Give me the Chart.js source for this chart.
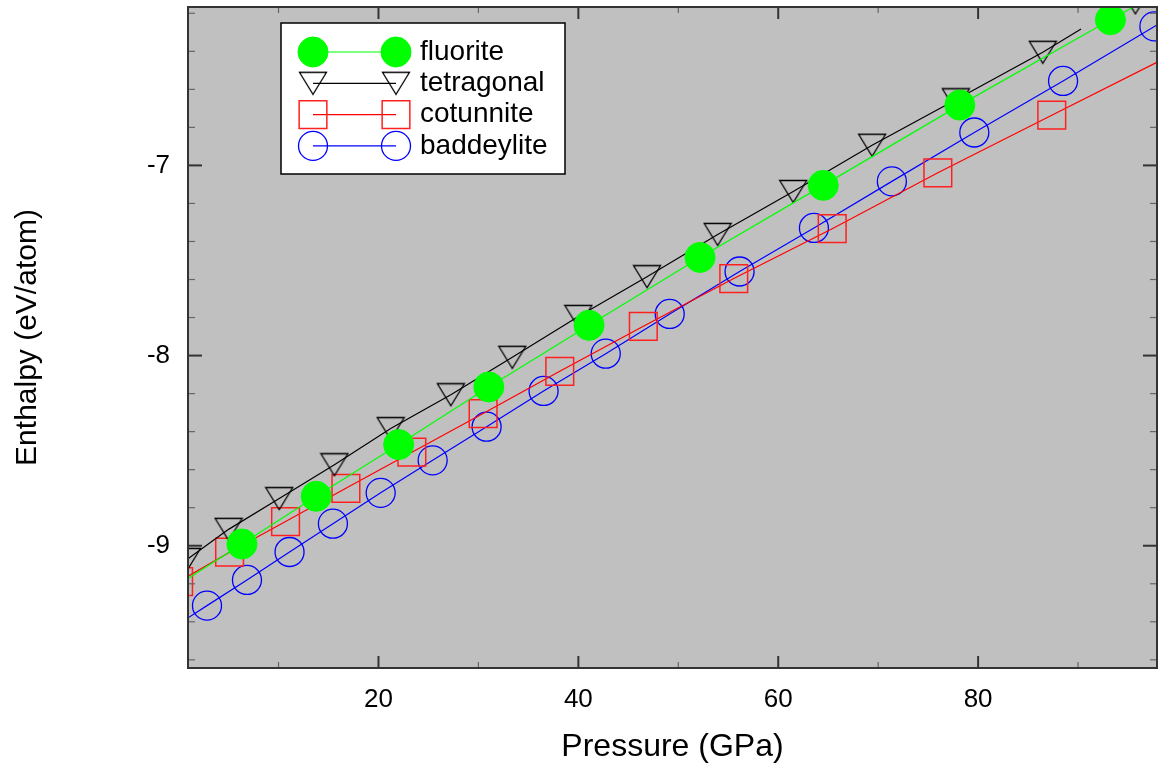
<!DOCTYPE html>
<html>
<head>
<meta charset="utf-8">
<script src="https://cdn.jsdelivr.net/npm/chart.js"></script>
<style>
  body { margin: 0; background: #fff; }
</style>
</head>
<body>
<canvas id="myChart" width="1158" height="770"></canvas>
<script>
// Data (pressure in GPa, enthalpy in eV/atom)
const fluorite_p = [-0.76, 6.34, 13.77, 22.02, 31.04, 41.07, 52.17, 64.50, 78.17, 93.24, 109.9];
const fluorite_h = [-9.229, -8.991, -8.740, -8.468, -8.165, -7.841, -7.484, -7.105, -6.683, -6.234, -5.75];

const tetragonal_p = [0.84, 5.0, 10.07, 15.59, 21.22, 27.24, 33.39, 40.0, 46.87, 53.94, 61.50, 69.39, 77.77, 86.47, 90.30, 95.74];
const tetragonal_h = [-9.072, -8.914, -8.752, -8.574, -8.384, -8.206, -8.009, -7.794, -7.585, -7.363, -7.137, -6.894, -6.655, -6.405, -6.283, -6.145];
const tetragonal_line_end = 14; // line stops here, last marker stands alone

const cotunnite_p = [0.0, 5.1, 10.7, 16.74, 23.34, 30.47, 38.14, 46.5, 55.55, 65.40, 75.97, 87.37, 99.67];
const cotunnite_h = [-9.189, -9.034, -8.873, -8.698, -8.508, -8.305, -8.083, -7.846, -7.595, -7.333, -7.039, -6.736, -6.411];

const baddeylite_p = [-1.03, 2.84, 6.84, 11.1, 15.44, 20.22, 25.42, 30.82, 36.52, 42.74, 49.14, 56.13, 63.57, 71.37, 79.62, 88.50, 97.64, 107.6];
const baddeylite_h = [-9.446, -9.315, -9.180, -9.033, -8.884, -8.722, -8.551, -8.374, -8.186, -7.990, -7.781, -7.558, -7.329, -7.084, -6.827, -6.556, -6.269, -5.961];

const series_labels = ["fluorite", "tetragonal", "cotunnite", "baddeylite"];

// Axis ranges
const x_min = 0.94, x_max = 97.9;
const y_min = -9.643, y_max = -6.167;

const FONT = 'Arial, "Liberation Sans", sans-serif';

function toPoints(px, py) {
  return px.map((p, i) => ({ x: p, y: py[i] }));
}

function isWhole(v) {
  return Math.abs(v - Math.round(v)) < 1e-6;
}

// Inverted triangle marker, centered on its bounding box
const triangle_img = document.createElement("canvas");
triangle_img.width = 30;
triangle_img.height = 25;
(function () {
  const c = triangle_img.getContext("2d");
  c.strokeStyle = "#000";
  c.lineWidth = 1.3;
  c.beginPath();
  c.moveTo(1.5, 1.5);
  c.lineTo(28.5, 1.5);
  c.lineTo(15, 23.5);
  c.closePath();
  c.stroke();
})();

// Gray plot area, inward ticks on all four sides, frame
const frameTicks = {
  id: "frameTicks",
  beforeDraw(chart) {
    const { ctx, chartArea: a } = chart;
    ctx.save();
    ctx.fillStyle = "#c0c0c0";
    ctx.fillRect(a.left, a.top, a.right - a.left, a.bottom - a.top);
    ctx.restore();
  },
  afterDatasetsDraw(chart) {
    const { ctx, chartArea: a, scales } = chart;
    const sx = scales.x, sy = scales.y;
    ctx.save();
    function seg(x1, y1, x2, y2) {
      ctx.beginPath();
      ctx.moveTo(x1, y1);
      ctx.lineTo(x2, y2);
      ctx.stroke();
    }
    sx.ticks.forEach((t) => {
      const px = sx.getPixelForValue(t.value);
      const major = isWhole(t.value / 20);
      const len = major ? 12 : 6;
      ctx.lineWidth = major ? 2 : 1.2;
      ctx.strokeStyle = major ? "#333" : "#666";
      seg(px, a.bottom, px, a.bottom - len);
      seg(px, a.top, px, a.top + len);
    });
    sy.ticks.forEach((t) => {
      const py = sy.getPixelForValue(t.value);
      const major = isWhole(t.value);
      const len = major ? 14 : 7;
      ctx.lineWidth = major ? 2 : 1.2;
      ctx.strokeStyle = major ? "#333" : "#666";
      seg(a.left, py, a.left + len, py);
      seg(a.right, py, a.right - len, py);
    });
    ctx.lineWidth = 2;
    ctx.strokeStyle = "#333";
    ctx.strokeRect(a.left, a.top, a.right - a.left, a.bottom - a.top);
    ctx.restore();
  }
};

// Origin style legend box inside the plot
const boxLegend = {
  id: "boxLegend",
  afterDraw(chart) {
    const { ctx, chartArea: a } = chart;
    const left = a.left + 93, top = a.top + 16, w = 284, h = 151;
    ctx.save();
    ctx.fillStyle = "#fff";
    ctx.fillRect(left, top, w, h);
    ctx.lineWidth = 1.5;
    ctx.strokeStyle = "#000";
    ctx.strokeRect(left, top, w, h);
    chart.data.datasets.forEach((ds, i) => {
      const y = top + 29 + i * 31.3;
      const x1 = left + 32, x2 = left + 115;
      ctx.strokeStyle = ds.borderColor;
      ctx.lineWidth = ds.borderWidth;
      ctx.beginPath();
      ctx.moveTo(x1, y);
      ctx.lineTo(x2, y);
      ctx.stroke();
      [x1, x2].forEach((x) => drawMarker(ctx, ds, x, y));
      ctx.fillStyle = "#000";
      ctx.font = "28px " + FONT;
      ctx.textBaseline = "middle";
      ctx.textAlign = "left";
      ctx.fillText(ds.label, left + 139, y);
    });
    ctx.restore();
  }
};

function drawMarker(ctx, ds, x, y) {
  const style = ds.pointStyle;
  if (style === triangle_img) {
    ctx.drawImage(triangle_img, x - triangle_img.width / 2, y - triangle_img.height / 2);
    return;
  }
  const r = ds.pointRadius;
  ctx.lineWidth = ds.pointBorderWidth;
  ctx.strokeStyle = ds.pointBorderColor;
  ctx.fillStyle = ds.pointBackgroundColor;
  ctx.beginPath();
  if (style === "rect") {
    const s = r * Math.SQRT1_2;
    ctx.rect(x - s, y - s, 2 * s, 2 * s);
  } else {
    ctx.arc(x, y, r, 0, Math.PI * 2);
  }
  ctx.fill();
  ctx.stroke();
}

// Chart.js reserves room for half-labels at the axis ends; the reference does not
function noEdgePadding(scale) {
  scale.paddingTop = 0;
  scale.paddingBottom = 0;
  scale.paddingLeft = 0;
  scale.paddingRight = 0;
}

const ctx = document.getElementById("myChart").getContext("2d");

const myChart = new Chart(ctx, {
  type: "line",
  data: {
    datasets: [
      {
        label: series_labels[0],
        data: toPoints(fluorite_p, fluorite_h),
        borderColor: "#00ff00",
        borderWidth: 1.2,
        pointStyle: "circle",
        pointRadius: 15,
        pointBackgroundColor: "#00ff00",
        pointBorderColor: "#00ff00",
        pointBorderWidth: 1
      },
      {
        label: series_labels[1],
        data: toPoints(tetragonal_p, tetragonal_h),
        borderColor: "#000000",
        borderWidth: 1.2,
        pointStyle: triangle_img,
        pointRadius: (c) => (c.dataIndex === tetragonal_line_end ? 0 : 13),
        pointBackgroundColor: "rgba(0,0,0,0)",
        pointBorderColor: "#000000",
        pointBorderWidth: 1.3,
        segment: {
          borderColor: (c) => (c.p0DataIndex >= tetragonal_line_end ? "rgba(0,0,0,0)" : "#000000")
        }
      },
      {
        label: series_labels[2],
        data: toPoints(cotunnite_p, cotunnite_h),
        borderColor: "#ff0000",
        borderWidth: 1.2,
        pointStyle: "rect",
        pointRadius: 19.6,
        pointBackgroundColor: "rgba(0,0,0,0)",
        pointBorderColor: "#ff2020",
        pointBorderWidth: 1.5
      },
      {
        label: series_labels[3],
        data: toPoints(baddeylite_p, baddeylite_h),
        borderColor: "#0000ff",
        borderWidth: 1.2,
        pointStyle: "circle",
        pointRadius: 14.5,
        pointBackgroundColor: "rgba(0,0,0,0)",
        pointBorderColor: "#0000ff",
        pointBorderWidth: 1.3
      }
    ]
  },
  options: {
    responsive: false,
    animation: false,
    clip: 0,
    layout: { autoPadding: false, padding: { top: 7, right: 1, left: 0, bottom: 0 } },
    elements: { line: { tension: 0 } },
    plugins: {
      legend: { display: false },
      tooltip: { enabled: false }
    },
    scales: {
      x: {
        type: "linear",
        min: x_min,
        max: x_max,
        grid: { display: false },
        border: { display: false },
        ticks: {
          stepSize: 10,
          includeBounds: false,
          autoSkip: false,
          maxRotation: 0,
          padding: 8,
          color: "#000",
          font: { family: FONT, size: 26 },
          callback: (v) => (isWhole(v / 20) ? Math.round(v) : "")
        },
        title: {
          display: true,
          text: "Pressure (GPa)",
          color: "#000",
          font: { family: FONT, size: 32 },
          padding: { top: 0, bottom: 4 }
        },
        afterFit: (scale) => {
          scale.height = 102;
          noEdgePadding(scale);
        }
      },
      y: {
        type: "linear",
        min: y_min,
        max: y_max,
        grid: { display: false },
        border: { display: false },
        ticks: {
          stepSize: 0.2,
          includeBounds: false,
          autoSkip: false,
          padding: 10,
          color: "#000",
          font: { family: FONT, size: 26 },
          callback: (v) => (isWhole(v) ? Math.round(v) : "")
        },
        title: {
          display: true,
          text: "Enthalpy (eV/atom)",
          color: "#000",
          font: { family: FONT, size: 30 },
          padding: { top: 9.5, bottom: 0 }
        },
        afterFit: (scale) => {
          scale.width = 188;
          noEdgePadding(scale);
        }
      }
    }
  },
  plugins: [frameTicks, boxLegend]
});
</script>
</body>
</html>
